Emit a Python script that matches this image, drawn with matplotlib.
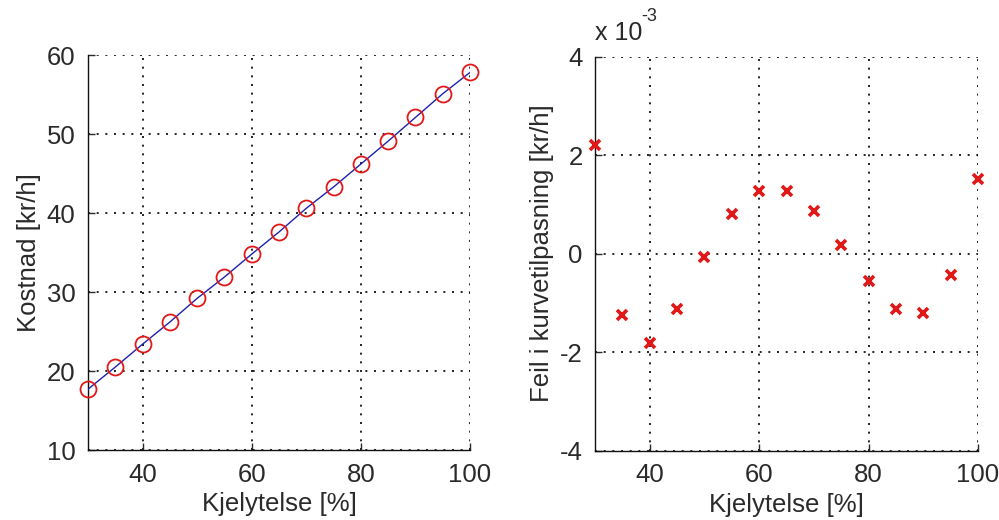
# Kjelkostnad og feil i kurvetilpasning, to delplott i MATLAB-stil
import numpy as np
import matplotlib
matplotlib.use('Agg')
import matplotlib.pyplot as plt

# Data
kjelytelse = [30, 35, 40, 45, 50, 55, 60, 65, 70, 75, 80, 85, 90, 95, 100]
kostnad = [17.7, 20.5, 23.4, 26.2, 29.2, 31.9, 34.8, 37.6, 40.6, 43.3,
           46.2, 49.1, 52.1, 55.1, 57.8]
# feil i enheter av 1e-3 kr/h
feil_e3 = [2.21, -1.24, -1.81, -1.13, -0.07, 0.81, 1.27, 1.27, 0.87, 0.18,
           -0.55, -1.13, -1.21, -0.43, 1.52]

x_ticks = [40, 60, 80, 100]
y1_ticks = [10, 20, 30, 40, 50, 60]
y2_ticks = [-4, -2, 0, 2, 4]

plt.rcParams['font.family'] = ['Liberation Sans', 'DejaVu Sans']
plt.rcParams['axes.unicode_minus'] = False
plt.rcParams['font.size'] = 18.5

txt = '#2a2a2a'

fig = plt.figure(figsize=(9.99, 5.2), dpi=100)
ax1 = fig.add_axes([0.0881, 0.1346, 0.3824, 0.7596])
ax2 = fig.add_axes([0.5956, 0.1333, 0.3834, 0.758])


def style(ax):
    # akser som i MATLAB med box off og stiplet rutenett
    for s in ['top', 'right']:
        ax.spines[s].set_visible(False)
    for s in ['left', 'bottom']:
        ax.spines[s].set_linewidth(1.0)
        ax.spines[s].set_color('#111111')
    ax.grid(True, linestyle=(0, (1.2, 4)), color='black', linewidth=1.2)
    ax.tick_params(direction='in', length=5, width=1, colors=txt, pad=9)
    ax.set_axisbelow(True)


# Venstre: kostnad
ax1.plot(kjelytelse, kostnad, color='#2020b0', linewidth=1.0, zorder=3)
ax1.plot(kjelytelse, kostnad, linestyle='none', marker='o', markersize=11.5,
         markerfacecolor='none', markeredgecolor='#e01818', markeredgewidth=1.3,
         zorder=4, clip_on=False)
ax1.set_xlim(30, 100)
ax1.set_ylim(10, 60)
ax1.set_xticks(x_ticks)
ax1.set_yticks(y1_ticks)
style(ax1)
ax1.set_xlabel('Kjelytelse [%]', color=txt, labelpad=4)
ax1.set_ylabel('Kostnad [kr/h]', color=txt, labelpad=4)

# Hoyre: feil i kurvetilpasning
ax2.plot(kjelytelse, feil_e3, linestyle='none', marker='x', markersize=7.5,
         markeredgecolor='#e01818', markeredgewidth=2.6, zorder=4, clip_on=False)
ax2.set_xlim(30, 100)
ax2.set_ylim(-4, 4)
ax2.set_xticks(x_ticks)
ax2.set_yticks(y2_ticks)
style(ax2)
ax2.set_xlabel('Kjelytelse [%]', color=txt, labelpad=4)
ax2.set_ylabel('Feil i kurvetilpasning [kr/h]', color=txt, labelpad=4)
ax2.text(0.0, 1.03, 'x 10', transform=ax2.transAxes, color=txt,
         fontsize=18, ha='left', va='bottom')
ax2.text(0.122, 1.08, '-3', transform=ax2.transAxes, color=txt,
         fontsize=13, ha='left', va='bottom')

fig.savefig('out.png', dpi=100)
